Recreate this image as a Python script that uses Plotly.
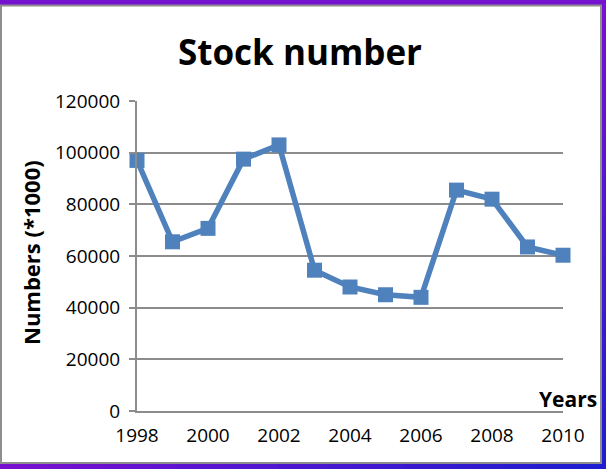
import plotly.graph_objects as go

# ── Data ─────────────────────────────────────────────────────────────────────
years = [1998, 1999, 2000, 2001, 2002, 2003, 2004, 2005, 2006, 2007, 2008, 2009, 2010]
stock = [97000, 65500, 70700, 97500, 103000, 54500, 48000, 45000, 44000, 85500, 82000, 63500, 60300]
x_ticks = [1998, 2000, 2002, 2004, 2006, 2008, 2010]
y_ticks = [0, 20000, 40000, 60000, 80000, 100000, 120000]

W, H = 606, 469
L, R, T, B = 137, 43, 101, 58
PW, PH = W - L - R, H - T - B
BLUE = "#4F81BD"
GRID = "#8C8C8C"
FONT = "Open Sans"


def px(x):
    return (x - L) / PW


def py(y):
    return (H - B - y) / PH


fig = go.Figure()
fig.add_trace(go.Scatter(
    x=years, y=stock, mode="lines+markers",
    line=dict(color=BLUE, width=5.5),
    marker=dict(symbol="square", size=15, color=BLUE),
    cliponaxis=False, showlegend=False,
))

# frame: purple band outside, grey border round the white chart area
shapes = []
n = 24
for i in range(n):
    t = i / (n - 1)
    c = "rgb(%d,%d,%d)" % (int(120 - 90 * t), int(16 + 14 * t), 208)
    shapes.append(dict(type="rect", xref="paper", yref="paper", layer="below",
                       x0=px(W * i / n), x1=px(W * (i + 1) / n + 1), y0=py(H), y1=py(464),
                       fillcolor=c, line_width=0))
for i in range(n):
    t = i / (n - 1)
    c = "rgb(%d,%d,%d)" % (int(120 - 90 * t), int(16 + 14 * t), 208)
    shapes.append(dict(type="rect", xref="paper", yref="paper", layer="below",
                       x0=px(602), x1=px(W), y0=py(H * i / n), y1=py(H * (i + 1) / n + 1),
                       fillcolor=c, line_width=0))
shapes.append(dict(type="rect", xref="paper", yref="paper", layer="below",
                   x0=px(0), x1=px(W), y0=py(0), y1=py(4.5), fillcolor="#7412D0", line_width=0))
shapes.append(dict(type="rect", xref="paper", yref="paper", layer="below",
                   x0=px(1), x1=px(601), y0=py(5.5), y1=py(463),
                   fillcolor="white", line=dict(color="#8E8E8E", width=2)))

fig.update_layout(
    width=W, height=H,
    margin=dict(l=L, r=R, t=T, b=B),
    paper_bgcolor="#7412D0",
    plot_bgcolor="white",
    font=dict(family=FONT, color="black", size=19),
    shapes=shapes,
    title=dict(text="<b>Stock number</b>", x=px(300), xanchor="center", xref="paper",
               y=1 - 53 / H, yanchor="middle", font=dict(size=35, family=FONT)),
    xaxis=dict(range=[1998, 2010], tickvals=x_ticks, showgrid=False,
               showline=True, linecolor=GRID, linewidth=2, zeroline=False,
               ticks="", ticklabelstandoff=6, tickfont=dict(size=19)),
    yaxis=dict(range=[0, 120000], tickvals=y_ticks, tickformat="d", showgrid=True,
               gridcolor=GRID, gridwidth=1.5, showline=True, linecolor=GRID, linewidth=2,
               zeroline=False, ticks="outside", ticklen=6, tickcolor=GRID, tickwidth=2,
               ticklabelstandoff=5, tickfont=dict(size=19)),
    annotations=[
        dict(text="<b>Numbers (*1000)</b>", textangle=-90, xref="paper", yref="paper",
             x=px(31), y=py(253), xanchor="center", yanchor="middle", showarrow=False,
             font=dict(size=22)),
        dict(text="<b>Years</b>", xref="paper", yref="paper",
             x=px(599), y=py(399), xanchor="right", yanchor="middle", showarrow=False,
             font=dict(size=21)),
    ],
)

fig.write_html("out.html", config={"displayModeBar": False},
               post_script="document.body.style.margin='0';")
